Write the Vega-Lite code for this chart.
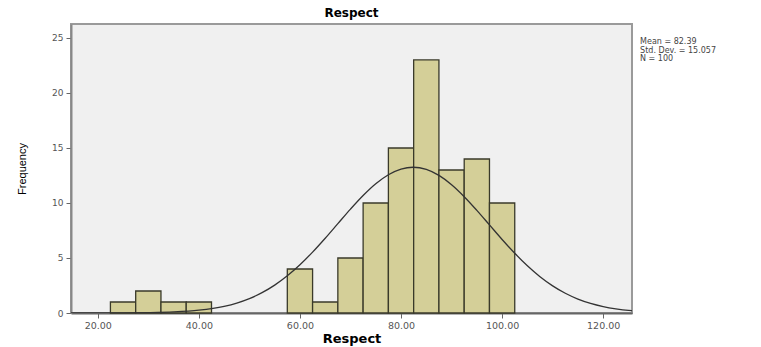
{
  "$schema": "https://vega.github.io/schema/vega-lite/v6.json",
  "width": 561,
  "height": 289,
  "autosize": "none",
  "padding": {"left": 71, "top": 24, "right": 129, "bottom": 34},
  "background": "white",
  "title": {"text": "Respect", "fontSize": 12, "fontWeight": "bold", "font": "DejaVu Sans", "color": "#000", "anchor": "middle", "offset": 4},
  "config": {
    "view": {"fill": "#f0f0f0", "stroke": "#9a9a9a", "strokeWidth": 2},
    "axis": {"labelFont": "DejaVu Sans", "labelFontSize": 9, "labelColor": "#555", "titleFont": "DejaVu Sans", "grid": false, "domainColor": "#888", "domainWidth": 2, "tickColor": "#666", "tickSize": 5}
  },
  "datasets": {
    "bins": [
      {"bin_start": 22.5, "bin_end": 27.5, "count": 1},
      {"bin_start": 27.5, "bin_end": 32.5, "count": 2},
      {"bin_start": 32.5, "bin_end": 37.5, "count": 1},
      {"bin_start": 37.5, "bin_end": 42.5, "count": 1},
      {"bin_start": 57.5, "bin_end": 62.5, "count": 4},
      {"bin_start": 62.5, "bin_end": 67.5, "count": 1},
      {"bin_start": 67.5, "bin_end": 72.5, "count": 5},
      {"bin_start": 72.5, "bin_end": 77.5, "count": 10},
      {"bin_start": 77.5, "bin_end": 82.5, "count": 15},
      {"bin_start": 82.5, "bin_end": 87.5, "count": 23},
      {"bin_start": 87.5, "bin_end": 92.5, "count": 13},
      {"bin_start": 92.5, "bin_end": 97.5, "count": 14},
      {"bin_start": 97.5, "bin_end": 102.5, "count": 10}
    ],
    "curve": [
      {"x": 14.7, "y": 0.0005},
      {"x": 20, "y": 0.0025},
      {"x": 25, "y": 0.0093},
      {"x": 30, "y": 0.031},
      {"x": 35, "y": 0.0935},
      {"x": 40, "y": 0.252},
      {"x": 45, "y": 0.607},
      {"x": 47.5, "y": 0.904},
      {"x": 50, "y": 1.31},
      {"x": 52.5, "y": 1.847},
      {"x": 55, "y": 2.533},
      {"x": 57.5, "y": 3.38},
      {"x": 60, "y": 4.385},
      {"x": 62.5, "y": 5.536},
      {"x": 65, "y": 6.799},
      {"x": 67.5, "y": 8.125},
      {"x": 70, "y": 9.443},
      {"x": 72.5, "y": 10.678},
      {"x": 75, "y": 11.745},
      {"x": 77.5, "y": 12.567},
      {"x": 80, "y": 13.082},
      {"x": 82.39, "y": 13.248},
      {"x": 85, "y": 13.05},
      {"x": 87.5, "y": 12.506},
      {"x": 90, "y": 11.659},
      {"x": 92.5, "y": 10.574},
      {"x": 95, "y": 9.329},
      {"x": 97.5, "y": 8.007},
      {"x": 100, "y": 6.685},
      {"x": 102.5, "y": 5.43},
      {"x": 105, "y": 4.29},
      {"x": 107.5, "y": 3.298},
      {"x": 110, "y": 2.467},
      {"x": 112.5, "y": 1.795},
      {"x": 115, "y": 1.269},
      {"x": 117.5, "y": 0.874},
      {"x": 120, "y": 0.585},
      {"x": 122.5, "y": 0.381},
      {"x": 125, "y": 0.242},
      {"x": 125.7, "y": 0.22}
    ],
    "stats": [
      {"x": 127.3, "y": 24.6, "label": "Mean = 82.39"},
      {"x": 127.3, "y": 23.85, "label": "Std. Dev. = 15.057"},
      {"x": 127.3, "y": 23.1, "label": "N = 100"}
    ]
  },
  "layer": [
    {
      "data": {"name": "bins"},
      "mark": {"type": "rect", "fill": "#d4cf98", "stroke": "#3a3a2a", "strokeWidth": 1.3},
      "encoding": {
        "x": {"field": "bin_start", "type": "quantitative",
              "scale": {"domain": [14.7, 125.7], "nice": false, "zero": false},
              "axis": {"values": [20, 40, 60, 80, 100, 120], "format": ".2f", "title": "Respect", "titleFontSize": 13, "titleFontWeight": "bold", "titleColor": "#000", "titlePadding": 3, "labelPadding": 2, "labelFontSize": 9.5, "domainColor": "#666"}},
        "x2": {"field": "bin_end"},
        "y": {"field": "count", "type": "quantitative",
              "scale": {"domain": [0, 26.27], "nice": false},
              "axis": {"values": [0, 5, 10, 15, 20, 25], "title": "Frequency", "titleFont": "Liberation Sans", "titleFontSize": 11, "titleFontWeight": "normal", "titleColor": "#000", "titlePadding": 24, "labelPadding": 3}},
        "y2": {"datum": 0}
      }
    },
    {
      "data": {"name": "curve"},
      "mark": {"type": "line", "color": "#333", "strokeWidth": 1.3, "interpolate": "monotone", "clip": true},
      "encoding": {
        "x": {"field": "x", "type": "quantitative"},
        "y": {"field": "y", "type": "quantitative"}
      }
    },
    {
      "data": {"name": "stats"},
      "mark": {"type": "text", "align": "left", "baseline": "middle", "font": "DejaVu Sans", "fontSize": 8, "color": "#444"},
      "encoding": {
        "x": {"field": "x", "type": "quantitative"},
        "y": {"field": "y", "type": "quantitative"},
        "text": {"field": "label"}
      }
    }
  ]
}
